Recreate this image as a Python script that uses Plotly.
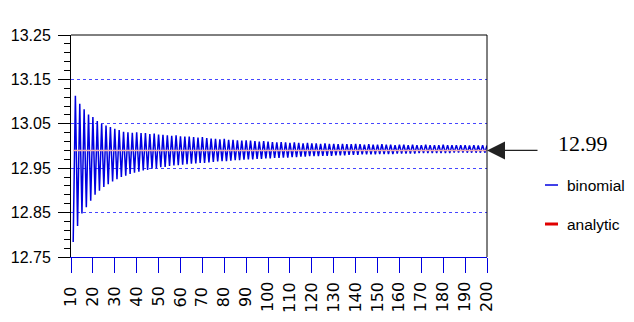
import plotly.graph_objects as go

# ---- data ----
n_odd = list(range(11, 200, 2))   # troughs
n_even = list(range(12, 201, 2))  # peaks

trough_vals = [
    12.784, 12.820, 12.848, 12.862, 12.877, 12.890, 12.899, 12.908, 12.914, 12.920,
    12.925, 12.930, 12.933, 12.937, 12.940, 12.942, 12.945, 12.946, 12.949, 12.950,
    12.952, 12.953, 12.955, 12.956, 12.957, 12.958, 12.959, 12.960, 12.961, 12.962,
    12.962, 12.963, 12.964, 12.965, 12.966, 12.966, 12.967, 12.968, 12.968, 12.969,
    12.970, 12.970, 12.971, 12.971, 12.972, 12.972, 12.973, 12.973, 12.974, 12.974,
    12.975, 12.975, 12.976, 12.976, 12.977, 12.977, 12.977, 12.978, 12.978, 12.978,
    12.979, 12.979, 12.979, 12.980, 12.980, 12.980, 12.981, 12.981, 12.981, 12.981,
    12.982, 12.982, 12.982, 12.982, 12.983, 12.983, 12.983, 12.983, 12.983, 12.984,
    12.984, 12.984, 12.984, 12.984, 12.984, 12.984, 12.984, 12.985, 12.985, 12.985,
    12.985, 12.985, 12.985, 12.985, 12.985,
]
peak_vals = [
    13.113, 13.095, 13.083, 13.071, 13.065, 13.056, 13.050, 13.046, 13.043, 13.039,
    13.036, 13.032, 13.031, 13.030, 13.031, 13.029, 13.029, 13.027, 13.028, 13.026,
    13.025, 13.024, 13.023, 13.024, 13.022, 13.021, 13.021, 13.020, 13.019, 13.020,
    13.018, 13.017, 13.016, 13.015, 13.016, 13.014, 13.014, 13.013, 13.012, 13.013,
    13.012, 13.011, 13.010, 13.011, 13.010, 13.009, 13.008, 13.009, 13.008, 13.007,
    13.008, 13.007, 13.006, 13.007, 13.006, 13.006, 13.005, 13.006, 13.005, 13.005,
    13.004, 13.005, 13.004, 13.004, 13.005, 13.004, 13.003, 13.004, 13.003, 13.003,
    13.004, 13.003, 13.003, 13.002, 13.003, 13.003, 13.002, 13.003, 13.002, 13.002,
    13.003, 13.002, 13.002, 13.002, 13.003, 13.002, 13.002, 13.002, 13.002, 13.002,
    13.001, 13.002, 13.001, 13.002, 13.001,
]
analytic_value = 12.99
series_names = ["binomial", "analytic"]
x_range = [10, 200]
x_ticks = list(range(10, 201, 10))
y_range = [12.75, 13.25]

BLUE = "rgb(0,0,225)"
RED = "#e00000"
SANS = "Liberation Sans, Arial, sans-serif"

# interleave odd/even steps into one binomial series
binom = {}
for n, v in zip(n_odd, trough_vals):
    binom[n] = v
for n, v in zip(n_even, peak_vals):
    binom[n] = v
steps = sorted(binom)
binom_vals = [binom[n] for n in steps]

fig = go.Figure()
fig.add_trace(go.Scatter(
    x=steps, y=binom_vals, mode="lines", name=series_names[0],
    line=dict(color=BLUE, width=1.5), showlegend=False,
))
fig.add_trace(go.Scatter(
    x=[steps[0], steps[-1]], y=[analytic_value, analytic_value], mode="lines",
    name=series_names[1], line=dict(color="#f2b0b0", width=1.6), showlegend=False,
))

# x tick labels (centered, rotated)
for t in x_ticks:
    fig.add_annotation(
        x=t, y=-0.18, xref="x", yref="paper", text=str(t), showarrow=False,
        textangle=-90, xanchor="center", yanchor="middle",
        font=dict(family="DejaVu Sans", size=16, color="black"),
    )

# arrow + value label
fig.add_annotation(
    x=x_range[1], y=analytic_value, xref="x", yref="y", text="", showarrow=True,
    ax=52, ay=0, arrowhead=2, arrowsize=3, arrowwidth=1.2, arrowcolor="#222",
    standoff=0,
)
fig.add_annotation(
    x=1.2308, y=0.512, xref="paper", yref="paper", text=f"{analytic_value:.2f}",
    showarrow=False, xanchor="center", yanchor="middle",
    font=dict(family="Liberation Serif", size=22, color="black"),
)

# legend (drawn manually for short sample lines)
legend_rows = [(series_names[0], BLUE, 1.5, 0.3243), (series_names[1], RED, 3, 0.1486)]
for name, col, w, yy in legend_rows:
    fig.add_shape(type="line", xref="paper", yref="paper", x0=1.1394, x1=1.1707,
                  y0=yy, y1=yy, line=dict(color=col, width=w))
    fig.add_annotation(
        x=1.1875, y=yy, xref="paper", yref="paper", text=name, showarrow=False,
        xanchor="left", yanchor="middle", font=dict(family=SANS, size=15.5, color="black"),
    )

# top and right frame
fig.add_shape(type="line", xref="paper", yref="paper", x0=0, x1=1, y0=1, y1=1,
              line=dict(color="black", width=1), layer="above")
fig.add_shape(type="line", xref="paper", yref="paper", x0=1, x1=1, y0=0, y1=1,
              line=dict(color="black", width=1), layer="above")

fig.update_layout(
    width=634, height=322,
    margin=dict(l=71, r=147, t=35, b=65, autoexpand=False),
    paper_bgcolor="white", plot_bgcolor="white",
    showlegend=False,
    xaxis=dict(
        range=x_range, tickvals=x_ticks, showticklabels=False, automargin=False,
        ticks="outside", ticklen=15, tickcolor=BLUE, tickwidth=1,
        showline=True, linecolor=BLUE, linewidth=1.2,
        showgrid=False, zeroline=False,
    ),
    yaxis=dict(
        range=y_range, tick0=12.75, dtick=0.1, tickformat=".2f", automargin=False,
        ticks="outside", ticklen=12, tickcolor="black", tickwidth=1,
        ticklabelstandoff=4,
        minor=dict(dtick=0.02, tick0=12.75, ticks="outside", ticklen=6, tickcolor="black", showgrid=False),
        showline=True, linecolor="black", linewidth=1,
        showgrid=True, gridcolor="rgb(70,70,255)", griddash="dot", gridwidth=1,
        zeroline=False,
        tickfont=dict(family=SANS, size=16, color="black"),
    ),
)

fig.write_html("out.html")
